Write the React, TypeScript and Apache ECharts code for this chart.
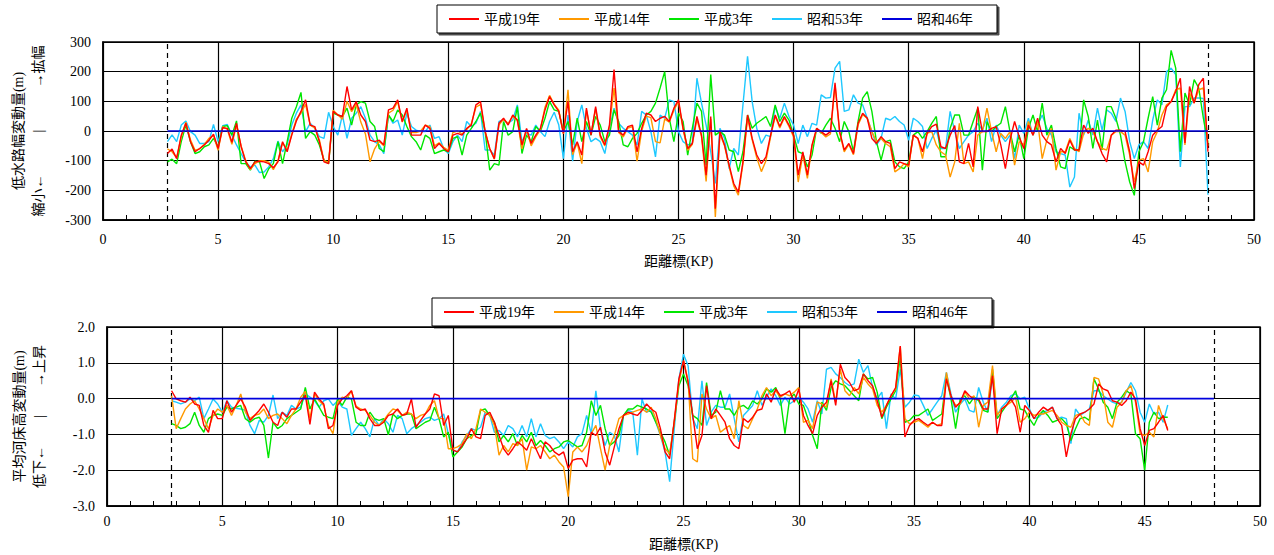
import React, { useEffect, useRef } from 'react';
import * as echarts from 'echarts';

// Stations (KP) start at 2.8 and are spaced every 0.2 km
const KP_START = 2.8;
const KP_STEP = 0.2;
const SERIES_NAMES = ['平成19年', '平成14年', '平成3年', '昭和53年', '昭和46年'];
const COLORS = ['#ff0000', '#ff9900', '#00e600', '#1ec8ff', '#0000dd'];
const SECTION_BOUNDS = [2.8, 48.0];
const BASE_KP = [2.8, 48.0];
const BASE_VAL = [0, 0];
const TOP_Y_NAME = '低水路幅変動量(m)\n縮小←　　　|　　　→拡幅';
const BOTTOM_Y_NAME = '平均河床高変動量(m)\n低下←　　|　　→上昇';
const X_NAME = '距離標(KP)';

// ---------- 低水路幅変動量 (m), KP 2.8 .. 48.0 ----------
const WIDTH_H19 = [
  -76,-61,-93,-14,26,-36,-70,-59,-47,-31,-11,-59,11,9,-38,26,-53,-104,-127,-104,-102,-104,-110,-124,-104,-36,-70,-14,34,66,105,
  20,15,-36,-104,-110,66,54,49,150,71,99,54,32,-31,-36,-31,-47,71,77,105,32,77,-14,-14,-14,20,9,-59,-42,-59,-70,-14,-8,-14,9,20,88,99,-2,-59,-93,
  26,43,20,54,37,-47,9,-42,-14,9,71,116,88,66,-8,100,-70,-36,-81,77,-14,82,-14,-47,20,207,-2,-14,15,20,-70,9,60,54,32,43,49,32,77,105,
  9,-59,-42,49,-14,-149,49,-262,-2,-47,-115,-177,-206,-104,54,-25,-81,-110,-87,-14,54,15,49,20,-14,-149,-70,-149,-47,9,-2,-14,-2,162,-2,-64,-42,-76,26,60,43,-25,
  -42,-19,-36,-42,-127,-104,-110,-115,-14,-25,-70,-8,15,23,-53,-59,-14,18,-104,-110,-42,-121,82,-2,-2,9,15,-47,-127,-31,32,-19,-59,20,-14,43,-14,-36,-47,-104,-59,
  -76,-31,-64,-64,20,-8,9,-36,-76,-104,-14,3,3,-2,-70,-194,-104,-115,-70,-14,3,15,82,99,133,178,-40,150,94,156,178,-70,
];
const WIDTH_H14 = [
  -60,-70,-90,-20,30,-30,-65,-60,-45,-25,-15,-65,15,5,-45,20,-50,-100,-130,-110,-100,-100,-105,-130,-100,-40,-65,-10,40,60,90,
  20,10,-30,-100,-105,70,55,40,100,65,90,30,-10,-104,-60,-35,-50,60,70,99,30,70,-5,-5,0,20,15,-50,-40,-55,-65,-5,0,-10,5,25,80,90,0,-60,-95,
  20,40,25,50,35,-60,5,-50,-20,5,80,120,90,70,-10,139,-80,-40,-110,70,-10,75,-20,-50,15,145,-5,-20,10,15,-102,0,50,45,-36,-40,40,30,70,100,
  5,-65,-45,40,-20,-170,40,-290,-10,-50,-120,-185,-216,-110,45,-30,-90,-137,-100,-20,50,10,45,15,-20,-172,-80,-160,-50,5,-5,-20,-10,155,-5,-70,-45,-80,20,55,43,-2,
  -36,-25,-42,-53,-138,-127,-110,-121,-14,-25,-93,-8,-2,-47,-70,-81,-155,-104,26,-110,-104,-138,-14,-2,77,-2,-70,-8,-25,-2,-115,-36,-47,32,-14,32,-93,-31,9,-132,-70,
  -70,-25,-59,-70,-8,9,-2,-36,-59,-64,-14,-2,-2,-14,-81,-172,-98,-93,-138,-36,-2,54,88,99,139,145,-47,128,94,139,145,-50,
];
const WIDTH_H3 = [
  -104,-95,-110,-36,20,-36,-76,-70,-53,-47,-25,-53,15,18,-14,34,-110,-110,-132,-102,-104,-160,-127,-110,-36,-110,-36,43,82,130,-25,
  -2,-14,-47,-98,-110,60,54,49,77,20,88,99,94,32,15,-59,-70,54,32,71,54,15,-19,-36,-64,-14,-25,-76,-70,-64,-70,-25,-19,-81,-14,9,32,60,-2,-132,-110,
  -115,32,-14,-2,82,-76,-14,-36,15,-2,43,99,71,66,-2,32,-47,43,-36,32,-14,49,20,-36,-14,71,32,-47,-53,-25,-8,26,54,66,94,145,200,43,-36,60,
  32,-81,9,94,66,-115,190,-14,-2,-14,-64,-70,-137,-70,54,9,26,37,49,15,88,32,60,37,-14,-70,-76,-121,-81,9,-8,20,43,9,-36,32,-2,-70,32,111,133,66,
  -36,-98,-36,-31,-104,-121,-127,-104,-14,-2,-25,-2,26,49,-87,-87,9,54,54,-14,-14,32,77,-132,32,-2,15,26,82,-2,-70,-14,-93,9,54,-2,94,-14,20,-59,-121,
  -127,-53,-64,-64,105,49,-59,37,-64,82,82,43,-14,-104,-172,-217,-70,-36,43,116,20,111,139,272,212,-70,128,88,173,145,43,-40,
];
const WIDTH_S53 = [
  -36,-13,-36,20,34,-2,-14,-42,-42,-36,22,-36,18,22,-14,-47,-76,-104,-121,-115,-140,-138,-121,-93,-34,-70,-47,20,60,88,-2,
  26,9,-19,-25,63,15,-14,54,-25,43,60,82,43,-14,-36,-47,-76,54,26,37,-14,60,15,3,-2,-2,20,-25,-19,-59,-76,-36,-14,-36,32,15,26,66,-64,-64,-81,
  32,37,26,37,88,-36,-8,-14,20,-2,-19,32,63,20,-93,54,-102,32,88,9,-36,-25,-36,-76,9,77,26,9,-2,-14,-47,66,54,-2,-87,54,43,105,99,-2,
  -36,-47,-42,178,94,20,-70,-177,9,-25,-127,-59,-81,88,252,99,9,-42,-14,-19,82,43,94,49,20,-42,20,-19,26,20,122,111,113,212,235,66,71,122,94,88,43,-2,
  -47,-25,43,37,49,32,20,-31,43,32,15,-59,-25,3,-59,-59,66,-2,-59,-36,-14,-2,26,3,43,-36,20,-14,-36,-14,-93,20,-8,43,-14,20,54,9,-14,-70,-76,
  -81,-189,-155,60,-14,37,-14,77,3,71,60,32,111,66,-36,-93,-47,-36,-59,37,105,88,200,212,190,-121,82,82,111,111,110,-215,
];

// ---------- 平均河床高変動量 (m), KP 2.8 .. 46.0 ----------
const BED_H19 = [
  0.22,-0.01,-0.06,-0.10,0.04,-0.15,-0.19,-0.75,-0.94,-0.33,-0.56,-0.56,-0.06,-0.38,-0.19,-0.01,-0.24,-0.61,-0.47,-0.33,-0.15,-0.38,-0.66,-0.75,-0.38,-0.52,-0.29,-0.29,-0.10,0.10,-0.72,
  0.18,-0.01,-0.15,-0.84,-0.75,-0.19,-0.01,0.08,0.22,-0.24,-0.33,-0.29,-0.56,-0.75,-0.75,-0.66,-0.47,-0.43,-0.29,-0.47,-0.43,-0.01,-0.80,-0.61,-0.43,-0.29,0.13,0.08,-0.75,-0.47,-1.44,-1.49,-1.31,-1.12,-0.84,-1.07,-1.12,-0.47,-0.38,-0.66,-1.03,
  -1.40,-1.58,-1.40,-1.21,-1.31,-1.44,-1.12,-1.40,-1.68,-1.21,-1.31,-1.49,-1.58,-1.49,-1.95,-1.72,-1.68,-1.68,-1.91,-0.94,-1.03,-0.80,-1.49,-1.86,-1.35,-0.84,-0.47,-0.38,-0.43,-0.47,-0.33,-0.15,-0.29,-0.38,-0.84,-1.49,-1.68,-0.61,0.55,1.06,
  0.45,-0.47,-1.40,-1.03,0.36,-0.56,-0.29,-0.47,-0.66,-1.12,-1.31,-1.40,-0.56,-0.66,-0.52,-0.33,-0.29,0.13,-0.10,0.27,0.08,0.13,0.22,-0.10,0.27,-0.47,-0.75,-0.98,-0.47,-0.24,-0.10,0.50,-0.19,0.96,0.59,0.45,0.22,0.27,0.69,0.50,0.36,-0.06,
  -0.52,-0.19,0.08,0.31,1.47,-1.07,-0.75,-0.61,-0.56,-0.66,-0.75,-0.66,-0.75,-0.75,0.55,0.08,-0.24,-0.10,0.22,0.08,-0.01,-0.01,-0.29,-0.29,0.64,-0.98,-0.29,-0.19,-0.01,-0.24,-0.94,-0.19,-0.33,-0.56,-0.38,-0.24,-0.33,-0.24,-0.56,-0.75,-1.63,
  -0.98,-0.56,-0.43,-0.38,-0.29,-0.15,0.41,0.27,0.22,-0.06,-0.10,-0.19,-0.06,0.18,-0.01,-0.84,-1.31,-0.89,-0.84,-0.66,-0.47,-0.89,
];
const BED_H14 = [
  0.08,-0.84,-0.56,-0.29,-0.15,-0.06,-0.29,-0.56,-0.84,-0.47,-0.29,-0.38,-0.19,-0.47,-0.19,0.13,-0.38,-0.56,-0.47,-0.43,-0.29,-0.56,-0.47,-0.43,-0.56,-0.70,-0.47,-0.29,0.04,0.20,-0.56,
  0.13,-0.06,-0.19,-0.75,-0.98,-0.10,0.04,-0.01,0.22,-0.21,-0.29,-0.33,-0.47,-0.66,-0.75,-0.61,-0.43,-0.29,-0.33,-0.47,-0.38,-0.43,-0.56,-0.47,-0.43,-0.19,-0.06,-0.56,-0.56,-1.40,-1.40,-1.35,-1.26,-0.98,-1.12,-0.84,-0.29,-0.38,-0.47,-0.75,-1.58,
  -1.31,-1.49,-1.26,-1.31,-1.12,-2.00,-1.35,-1.40,-1.31,-1.49,-1.68,-1.58,-1.77,-1.91,-2.74,-1.49,-1.35,-1.49,-1.31,-0.98,-0.75,-1.40,-2.00,-1.31,-1.03,-0.56,-0.47,-0.43,-0.38,-0.33,-0.29,-0.38,-0.24,-0.56,-1.03,-1.40,-1.54,-0.66,0.45,1.06,
  0.50,-1.68,-1.77,0.13,-0.29,-0.56,-0.47,-0.94,-0.84,-0.75,-1.12,-0.06,-0.75,-0.84,-0.56,-0.29,0.08,0.31,0.08,0.22,0.04,0.13,0.08,0.18,0.31,-0.66,-0.61,-0.84,-0.10,-0.15,-0.24,0.55,-0.10,0.82,0.22,0.08,0.31,0.13,0.59,0.41,0.27,-0.19,
  -0.38,-0.19,0.08,0.27,1.47,-0.56,-0.70,-0.66,-0.61,-0.70,-0.80,-0.66,-0.75,-0.70,0.73,0.04,-0.19,-0.15,0.18,-0.01,0.08,-0.80,-0.19,-0.10,0.92,-0.47,-0.29,-0.19,-0.10,0.04,-0.66,-0.56,-0.38,-0.47,-0.43,-0.43,-0.38,-0.33,-0.47,-0.66,-0.75,
  -0.80,-0.47,-0.43,-0.66,-0.75,0.59,0.55,0.13,-0.66,-0.80,-0.24,-0.10,0.22,0.36,-0.10,-0.98,-1.03,-0.94,-1.07,-0.19,-0.56,-0.84,
];
const BED_H3 = [
  -0.70,-0.75,-0.84,-0.80,-0.70,-0.38,-0.75,-0.94,-0.56,-0.47,-0.43,-0.47,-0.24,-0.29,-0.24,-0.19,-0.56,-0.66,-0.56,-0.52,-0.75,-1.66,-0.66,-0.84,-0.75,-0.56,-0.47,-0.38,-0.29,0.31,-0.29,
  -0.01,-0.24,-0.47,-0.52,-0.56,-0.01,-0.19,0.04,-0.01,-0.66,-0.75,-0.75,-0.38,-0.56,-0.61,-0.56,-1.01,-0.43,-0.56,-0.47,-0.43,-0.43,-0.84,-0.75,-0.66,-0.61,-0.24,-0.56,-1.07,-0.94,-1.63,-1.49,-1.35,-1.12,-1.03,-0.98,-0.33,-0.29,-0.47,-0.66,-1.21,
  -1.03,-1.21,-0.98,-1.31,-1.03,-1.21,-0.94,-1.31,-1.17,-1.31,-1.49,-1.40,-1.35,-1.21,-1.17,-1.26,-1.35,-1.31,-0.94,-0.06,-0.47,-0.19,-0.84,-1.31,-1.21,-1.03,-0.47,-0.29,-0.29,-0.19,-0.24,-0.29,-0.38,-0.66,-0.94,-1.21,-1.58,-0.66,0.36,0.69,
  0.36,-0.47,-0.56,-0.75,0.45,-0.47,-0.38,0.22,-0.29,-0.29,-0.47,-0.24,-0.19,-0.29,-0.06,-0.15,-0.01,0.27,0.18,0.31,-0.01,-0.98,-0.01,0.13,-0.15,-0.19,-0.56,-1.03,-1.40,-0.10,-0.33,0.31,0.50,0.41,0.36,0.22,0.08,-0.06,0.69,0.55,0.59,0.18,
  -0.56,-0.24,-0.01,0.22,1.15,-0.66,-0.61,-0.47,-0.47,-0.38,-0.29,-0.61,-0.52,-0.43,0.59,-0.01,-0.84,-0.01,0.08,-0.15,0.04,-0.06,-0.33,-0.38,0.82,-0.56,-0.38,-0.19,-0.01,0.22,-0.29,-0.33,-0.56,-0.75,-0.47,-0.33,-0.47,-0.66,-0.61,-0.56,-0.70,
  -1.17,-0.84,-0.56,-0.52,-0.61,0.55,0.27,-0.10,-0.24,-0.56,-0.10,0.04,0.22,0.13,-0.98,-1.12,-2.00,-0.66,-0.38,-0.56,-0.52,-0.52,
];
const BED_S53 = [
  -0.06,-0.10,-0.15,-0.10,-0.01,-0.06,0.04,-0.56,-0.29,-0.01,-0.15,-0.38,-0.06,-0.24,-0.27,-0.29,-0.33,-0.75,-0.98,-0.61,-0.66,-0.47,0.10,-0.56,-0.38,-0.47,-0.19,-0.29,-0.24,0.13,0.04,
  -0.06,-0.24,-0.06,-0.01,-0.19,-0.06,-0.24,-0.29,-1.03,-0.84,-0.66,-0.84,-1.07,-0.56,-0.75,-0.56,-0.70,-0.94,-0.47,-0.56,-0.98,-0.84,-0.75,-0.66,-0.56,-0.52,-0.61,-0.56,-0.43,-0.98,-1.44,-1.49,-1.21,-1.03,-0.84,-0.89,-0.80,-0.38,-0.47,-0.94,-0.89,
  -1.03,-0.75,-0.84,-1.07,-0.75,-1.07,-0.56,-1.07,-0.70,-1.03,-1.12,-1.07,-1.21,-1.40,-1.21,-1.35,-1.07,-0.98,-0.47,-0.98,0.22,-0.84,-1.31,-0.94,-1.03,-1.49,-0.47,-0.33,-0.38,-1.58,-0.01,-0.38,-0.33,-0.66,-1.03,-1.49,-2.32,-0.84,0.55,1.24,
  0.92,-0.56,-0.84,0.50,-0.75,-0.38,-0.19,-0.24,-0.24,0.13,-0.56,-1.21,-0.47,-0.33,-0.19,0.22,-0.19,0.04,0.27,0.08,-0.19,0.04,-0.15,-0.06,0.04,-0.10,-0.29,-0.66,-0.06,-0.43,0.82,0.87,0.69,0.59,0.45,0.36,0.41,1.10,0.73,0.92,0.31,-0.01,
  0.18,-0.84,0.13,-0.01,0.82,-0.24,-0.10,0.10,0.08,-0.19,-0.47,-0.29,-0.10,0.08,0.73,0.13,-0.38,-0.15,-0.01,-0.33,-0.38,0.31,-0.10,-0.38,0.59,-0.47,-0.24,-0.10,0.08,0.13,-0.01,0.04,-0.29,-0.56,-0.52,-0.38,-0.33,-0.24,-0.56,-0.52,-0.56,
  -1.26,-0.29,-0.47,-0.38,-0.29,0.22,0.22,0.08,-0.01,-0.10,-0.15,-0.10,0.18,0.45,0.22,-0.38,-0.66,-0.15,-0.43,-0.38,-0.66,-0.18,
];

const FONT = "'Times New Roman', 'Liberation Serif', 'Noto Sans CJK JP', serif";

function toPairs(vals: number[]) {
  return vals.map((v, i) => [Number((KP_START + KP_STEP * i).toFixed(1)), v]);
}

function panelSeries(sets: number[][], gridIndex: number) {
  const list: any[] = [];
  // draw older surveys first so newer ones sit on top
  for (let k = sets.length - 1; k >= 0; k--) {
    list.push({
      name: SERIES_NAMES[k],
      type: 'line',
      xAxisIndex: gridIndex,
      yAxisIndex: gridIndex,
      data: toPairs(sets[k]),
      showSymbol: false,
      symbol: 'none',
      lineStyle: { color: COLORS[k], width: 1.4 },
      itemStyle: { color: COLORS[k] },
      z: 3 + (sets.length - k),
    });
  }
  list.push({
    name: SERIES_NAMES[4],
    type: 'line',
    xAxisIndex: gridIndex,
    yAxisIndex: gridIndex,
    data: BASE_KP.map((x, i) => [x, BASE_VAL[i]]),
    showSymbol: false,
    symbol: 'none',
    lineStyle: { color: COLORS[4], width: 1.6 },
    itemStyle: { color: COLORS[4] },
    z: 10,
    markLine: {
      silent: true,
      symbol: 'none',
      label: { show: false },
      lineStyle: { color: '#000', type: [5, 4], width: 1.2 },
      data: SECTION_BOUNDS.map((x) => ({ xAxis: x })),
    },
  });
  return list;
}

function xAxisDef(gridIndex: number, nameGap: number, labelMargin: number) {
  return {
    type: 'value',
    gridIndex,
    min: 0,
    max: 50,
    interval: 5,
    name: X_NAME,
    nameLocation: 'middle',
    nameGap,
    nameTextStyle: { color: '#000', fontSize: 14, fontFamily: FONT },
    axisLine: { show: true, onZero: false, lineStyle: { color: '#000', width: 1.5 } },
    axisTick: { show: true, inside: true, length: 5, lineStyle: { color: '#000' } },
    minorTick: { show: true, splitNumber: 5, length: 5, lineStyle: { color: '#000' } },
    axisLabel: { color: '#000', fontSize: 14, fontFamily: FONT, margin: labelMargin },
    splitLine: { show: true, lineStyle: { color: '#000', width: 1.2 } },
  };
}

export default function App() {
  const ref = useRef<HTMLDivElement>(null);
  useEffect(() => {
    if (!ref.current) return;
    const chart = echarts.init(ref.current, undefined, { renderer: 'svg' });
    const legendBase = {
      data: SERIES_NAMES.map((n) => ({ name: n, icon: 'rect' })),
      orient: 'horizontal',
      itemWidth: 30,
      itemHeight: 2,
      itemGap: 19,
      padding: [7, 24, 7, 12],
      borderColor: '#000',
      borderWidth: 1,
      backgroundColor: '#fff',
      shadowColor: 'rgba(0,0,0,0.7)',
      shadowOffsetX: 2,
      shadowOffsetY: 2,
      textStyle: { color: '#000', fontSize: 14, fontFamily: FONT },
      selectedMode: false,
    };
    const option: any = {
      animation: false,
      backgroundColor: '#fff',
      legend: [
        { ...legendBase, left: 437, top: 5 },
        { ...legendBase, left: 432, top: 298 },
      ],
      grid: [
        { left: 101, top: 42, width: 1153, height: 178, show: true, borderColor: '#000', borderWidth: 1.5, backgroundColor: 'transparent' },
        { left: 107, top: 327, width: 1153, height: 179, show: true, borderColor: '#000', borderWidth: 1.5, backgroundColor: 'transparent' },
      ],
      xAxis: [xAxisDef(0, 34, 12), xAxisDef(1, 31, 8)],
      yAxis: [
        {
          type: 'value',
          gridIndex: 0,
          min: -300,
          max: 300,
          interval: 100,
          name: TOP_Y_NAME,
          nameLocation: 'middle',
          nameRotate: 90,
          nameGap: 55,
          nameTextStyle: { color: '#000', fontSize: 14, fontFamily: FONT, lineHeight: 20 },
          axisLine: { show: true, lineStyle: { color: '#000', width: 1.5 } },
          axisTick: { show: false },
          axisLabel: { color: '#000', fontSize: 14, fontFamily: FONT, margin: 12 },
          splitLine: { show: true, lineStyle: { color: '#000', width: 1.2 } },
        },
        {
          type: 'value',
          gridIndex: 1,
          min: -3,
          max: 2,
          interval: 1,
          name: BOTTOM_Y_NAME,
          nameLocation: 'middle',
          nameRotate: 90,
          nameGap: 58,
          nameTextStyle: { color: '#000', fontSize: 14, fontFamily: FONT, lineHeight: 20 },
          axisLine: { show: true, lineStyle: { color: '#000', width: 1.5 } },
          axisTick: { show: false },
          axisLabel: { color: '#000', fontSize: 14, fontFamily: FONT, margin: 12, formatter: (v: number) => v.toFixed(1) },
          splitLine: { show: true, lineStyle: { color: '#000', width: 1.2 } },
        },
      ],
      series: [
        ...panelSeries([WIDTH_H19, WIDTH_H14, WIDTH_H3, WIDTH_S53], 0),
        ...panelSeries([BED_H19, BED_H14, BED_H3, BED_S53], 1),
      ],
    };
    chart.setOption(option);
    return () => chart.dispose();
  }, []);
  return (
    <div
      ref={ref}
      style={{ position: 'fixed', left: 0, top: 0, width: 1274, height: 555, background: '#fff' }}
    />
  );
}
